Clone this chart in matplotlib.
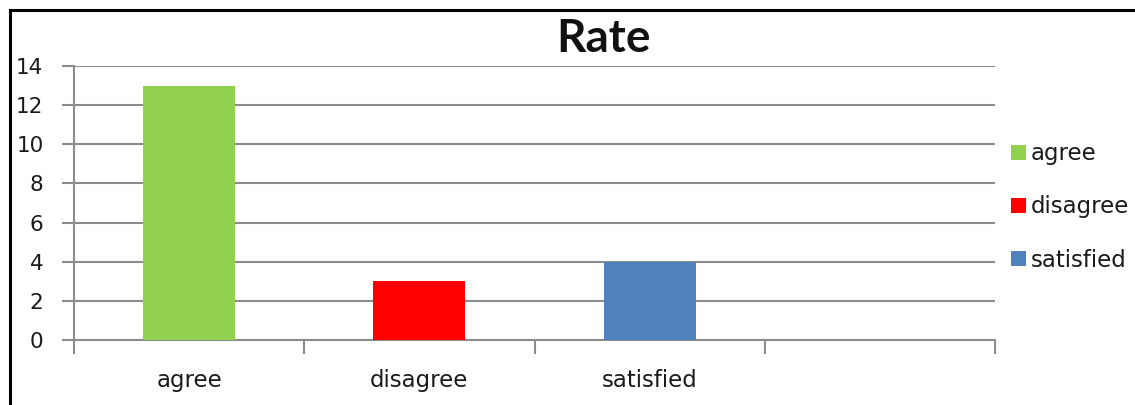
import matplotlib
matplotlib.use("Agg")
import matplotlib.pyplot as plt
from matplotlib.patches import Patch
from matplotlib.lines import Line2D

categories = ["agree", "disagree", "satisfied"]
values = [13, 3, 4]
colors = ["#92D050", "#FF0000", "#4F81BD"]
yticks = [0, 2, 4, 6, 8, 10, 12, 14]
title = "Rate"

plt.rcParams['font.family'] = ['DejaVu Sans']

W, H = 1135, 405
fig = plt.figure(figsize=(W / 100, H / 100), dpi=100)
ax = fig.add_axes([74 / W, (H - 340) / H, (995 - 74) / W, (340 - 66) / H])

grid_c = "#8C8C8C"
txt_c = "#1a1a1a"
fs = 16.5
x = list(range(len(categories)))
ax.bar(x, values, width=0.4, color=colors, zorder=3)

ax.set_xlim(-0.5, 3.5)
ax.set_ylim(0, 14)
ax.set_yticks(yticks)
ax.set_yticklabels([str(v) for v in yticks], fontsize=15.5, color=txt_c)
ax.yaxis.grid(True, color=grid_c, linewidth=1.5, zorder=0)
ax.tick_params(axis='y', length=9, width=1.5, color=grid_c, pad=13)

ax.set_xticks([-0.5, 0.5, 1.5, 2.5, 3.5])
ax.set_xticklabels([])
ax.tick_params(axis='x', which='major', length=10, width=1.5, color=grid_c, direction='out')
ax.set_xticks(x, minor=True)
ax.set_xticklabels(categories, minor=True, fontsize=fs, color=txt_c)
ax.tick_params(axis='x', which='minor', length=0, pad=21)

for s in ['top', 'right']:
    ax.spines[s].set_visible(False)
ax.spines['left'].set_color(grid_c)
ax.spines['left'].set_linewidth(1.5)
ax.spines['bottom'].set_color(grid_c)
ax.spines['bottom'].set_linewidth(1.5)

fig.text(604 / W, (H - 52) / H, title, fontsize=33, fontweight='bold',
         family=['Lato', 'DejaVu Sans'], ha='center', va='baseline', color="#111111")

handles = [Patch(facecolor=c, edgecolor='none') for c in colors]
fig.legend(handles, categories, loc='center left',
           bbox_to_anchor=(1011 / W, (H - 207) / H), frameon=False,
           fontsize=fs, handlelength=0.65, handleheight=0.65,
           handletextpad=0.22, labelspacing=1.31, borderaxespad=0, borderpad=0,
           labelcolor=txt_c)

fig.add_artist(Line2D([10 / W, 10 / W], [0, (H - 10) / H], color='black', linewidth=2.2))
fig.add_artist(Line2D([10 / W, 1], [(H - 10) / H, (H - 10) / H], color='black', linewidth=2.2))

fig.savefig("out.png", dpi=100)
